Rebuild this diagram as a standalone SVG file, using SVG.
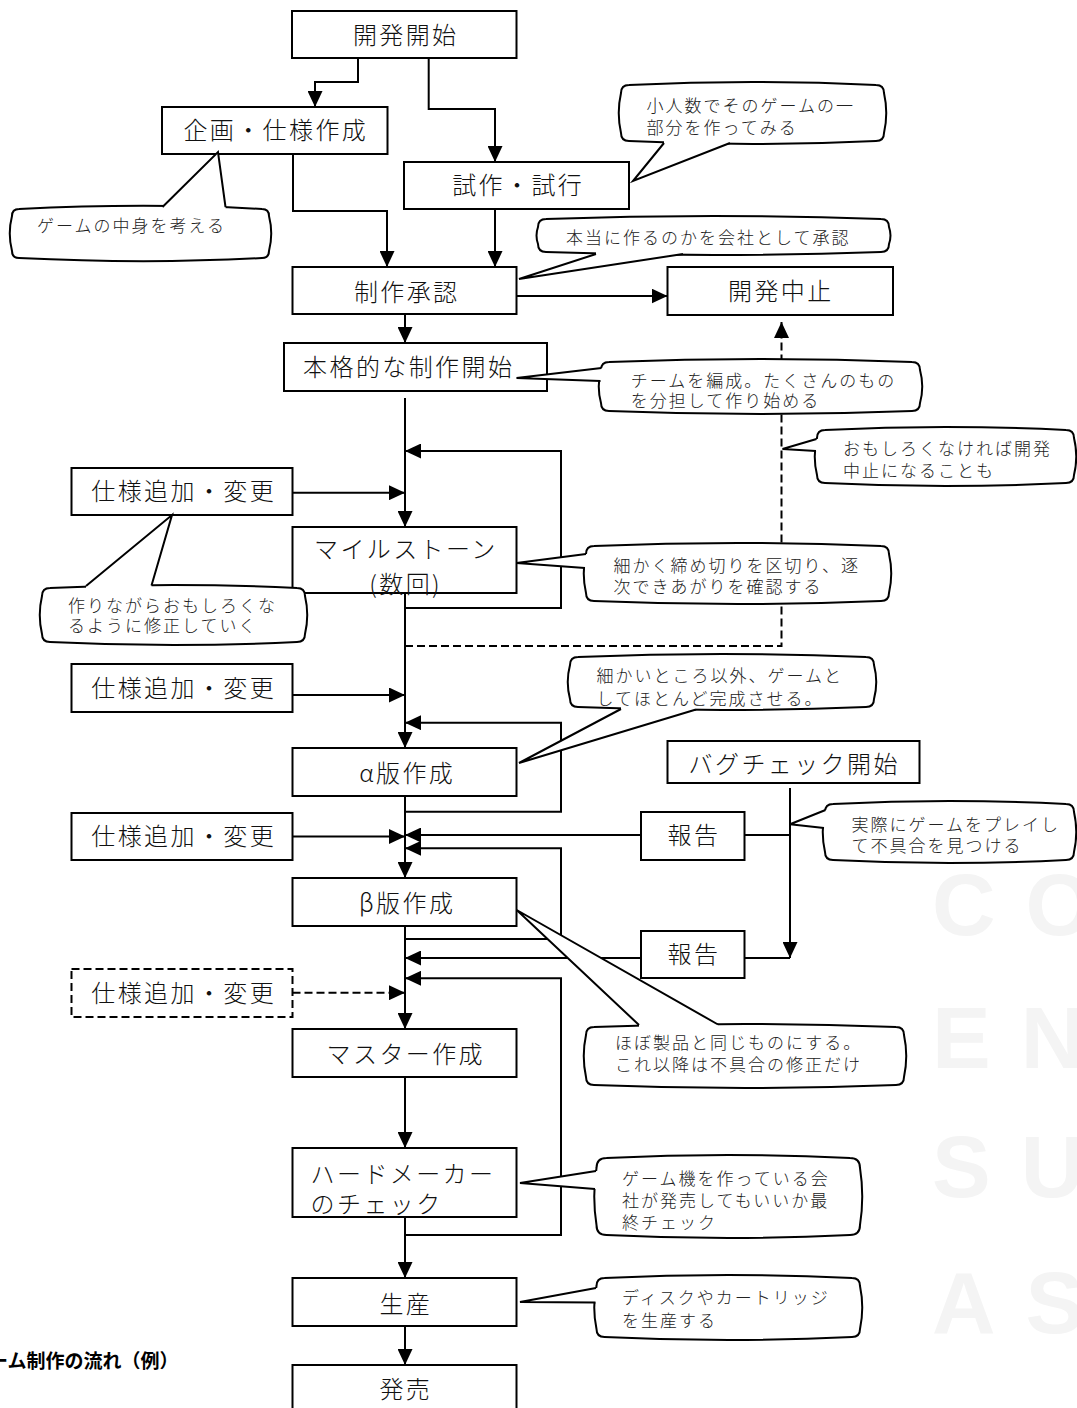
<svg xmlns="http://www.w3.org/2000/svg" width="1077" height="1408" viewBox="0 0 1077 1408">
<defs>
<style>
.box{fill:#fff;stroke:#000;stroke-width:2}
.dbox{fill:#fff;stroke:#000;stroke-width:2;stroke-dasharray:8 4}
.lbl{font-family:"Noto Sans CJK JP","Noto Sans",sans-serif;font-size:24px;font-weight:300;letter-spacing:2.4px;text-anchor:middle;dominant-baseline:central;fill:#111}
.lbs{font-family:"Noto Sans CJK JP","Noto Sans",sans-serif;font-size:24px;font-weight:300;letter-spacing:2.4px;text-anchor:start;dominant-baseline:central;fill:#111}
.cn{fill:none;stroke:#000;stroke-width:2}
.dash{stroke-dasharray:8 4}
.co{fill:#fff;stroke:#000;stroke-width:2}
.cov{fill:#fff;stroke:none}
.wl{fill:none;stroke:#000;stroke-width:2}
.ct{font-family:"Noto Sans CJK JP","Noto Sans",sans-serif;font-size:17px;font-weight:300;letter-spacing:2px;text-anchor:start;dominant-baseline:central;fill:#222}
.wm{font-family:"Liberation Sans",Arial,sans-serif;font-size:88px;font-weight:bold;letter-spacing:30px;fill:#f4f4f4}
.cap{font-family:"Noto Sans CJK JP","Noto Sans",sans-serif;font-size:19px;font-weight:bold;dominant-baseline:central;fill:#000}
</style>
<marker id="ah" viewBox="0 0 16 15" refX="16" refY="7.5" markerWidth="16" markerHeight="15" markerUnits="userSpaceOnUse" orient="auto">
<path d="M0,0 L16,7.5 L0,15 z" fill="#000"/>
</marker>
</defs>
<rect width="1077" height="1408" fill="#fff"/>
<g id="watermark">
<text class="wm" x="932" y="935">CO</text>
<text class="wm" x="932" y="1068">ENT</text>
<text class="wm" x="932" y="1197">SU</text>
<text class="wm" x="932" y="1333">ASS</text>
</g>

<g id="connectors">
<path class="cn" d="M358,58 V82 H315 V107" marker-end="url(#ah)"/>
<path class="cn" d="M428.7,58 V109 H495 V162" marker-end="url(#ah)"/>
<path class="cn" d="M293,154 V211 H387 V267" marker-end="url(#ah)"/>
<path class="cn" d="M495,209 V267" marker-end="url(#ah)"/>
<path class="cn" d="M516.5,296 H667.5" marker-end="url(#ah)"/>
<path class="cn" d="M405,314 V343" marker-end="url(#ah)"/>
<path class="cn" d="M405,398 V527" marker-end="url(#ah)"/>
<path class="cn" d="M405,608 H561 V451 H405" marker-end="url(#ah)"/>
<path class="cn" d="M292.5,492.7 H405" marker-end="url(#ah)"/>
<path class="cn" d="M405,593 V748" marker-end="url(#ah)"/>
<path class="cn dash" d="M405,646 H781.5 V322" marker-end="url(#ah)"/>
<path class="cn" d="M292.5,695 H405" marker-end="url(#ah)"/>
<path class="cn" d="M405,811.7 H561 V722.7 H405" marker-end="url(#ah)"/>
<path class="cn" d="M405,796 V878" marker-end="url(#ah)"/>
<path class="cn" d="M292.5,836.5 H405" marker-end="url(#ah)"/>
<path class="cn" d="M641,835 H405" marker-end="url(#ah)"/>
<path class="cn" d="M405,939 H561 V848.3 H405" marker-end="url(#ah)"/>
<path class="cn" d="M405,926 V1029" marker-end="url(#ah)"/>
<path class="cn" d="M641,958 H405" marker-end="url(#ah)"/>
<path class="cn" d="M405,1235 H561 V978.3 H405" marker-end="url(#ah)"/>
<path class="cn dash" d="M292.5,992.7 H405" marker-end="url(#ah)"/>
<path class="cn" d="M405,1077 V1148" marker-end="url(#ah)"/>
<path class="cn" d="M405,1217 V1278" marker-end="url(#ah)"/>
<path class="cn" d="M405,1326 V1365" marker-end="url(#ah)"/>
<path class="cn" d="M790,788 V958" marker-end="url(#ah)"/>
<path class="cn" d="M744.5,835 H790"/>
<path class="cn" d="M744.5,958 H790"/>
</g>

<g id="n-start"><rect class="box" x="292" y="11" width="224.5" height="47"/><text class="lbl" x="405.7" y="33">開発開始</text></g>
<g id="n-plan"><rect class="box" x="162" y="107" width="225.5" height="47"/><text class="lbl" x="275.8" y="128">企画・仕様作成</text></g>
<g id="n-proto"><rect class="box" x="404" y="162" width="225" height="47"/><text class="lbl" x="518.2" y="183">試作・試行</text></g>
<g id="n-approve"><rect class="box" x="292.5" y="267" width="224" height="47"/><text class="lbl" x="406.7" y="290">制作承認</text></g>
<g id="n-cancel"><rect class="box" x="667.5" y="267" width="225.5" height="48"/><text class="lbl" x="780.8" y="289">開発中止</text></g>
<g id="n-fullstart"><rect class="box" x="284" y="343" width="263" height="48"/><text class="lbl" x="408.7" y="365">本格的な制作開始</text></g>
<g id="n-spec1"><rect class="box" x="71.5" y="468" width="221" height="47"/><text class="lbl" x="183.7" y="489.5">仕様追加・変更</text></g>
<g id="n-milestone"><rect class="box" x="292.5" y="527" width="224" height="66"/><text class="lbl"><tspan x="405.8" y="547">マイルストーン</tspan><tspan x="405.7" y="582">(数回)</tspan></text></g>
<g id="n-spec2"><rect class="box" x="71.5" y="664" width="221" height="48"/><text class="lbl" x="183.7" y="686">仕様追加・変更</text></g>
<g id="n-alpha"><rect class="box" x="292.5" y="748" width="224" height="48"/><text class="lbl" x="407.2" y="771">α版作成</text></g>
<g id="n-spec3"><rect class="box" x="71.5" y="813" width="221" height="47"/><text class="lbl" x="183.7" y="834">仕様追加・変更</text></g>
<g id="n-beta"><rect class="box" x="292.5" y="878" width="224" height="48"/><text class="lbl" x="407.2" y="901.7">β版作成</text></g>
<g id="n-bugcheck"><rect class="box" x="667.5" y="741" width="252" height="42"/><text class="lbl" x="794.2" y="762.5">バグチェック開始</text></g>
<g id="n-report1"><rect class="box" x="641" y="812" width="103.5" height="48"/><text class="lbl" x="693.9" y="833">報告</text></g>
<g id="n-report2"><rect class="box" x="641" y="931" width="103.5" height="47"/><text class="lbl" x="693.9" y="952.5">報告</text></g>
<g id="n-spec4"><rect class="dbox" x="71.5" y="969" width="221" height="48"/><text class="lbl" x="183.7" y="991.7">仕様追加・変更</text></g>
<g id="n-master"><rect class="box" x="292.5" y="1029" width="224" height="48"/><text class="lbl" x="405.8" y="1052.5">マスター作成</text></g>
<g id="n-hardcheck"><rect class="box" x="292.5" y="1148" width="224" height="69"/><text class="lbs"><tspan x="310.6" y="1172">ハードメーカー</tspan><tspan x="310.6" y="1202">のチェック</tspan></text></g>
<g id="n-produce"><rect class="box" x="292.5" y="1278" width="224" height="48"/><text class="lbl" x="405.8" y="1302">生産</text></g>
<g id="n-release"><rect class="box" x="292.5" y="1365" width="224" height="48"/><text class="lbl" x="405.8" y="1387">発売</text></g>

<g id="c-plan">
<path class="co" d="M19,209 C100,205 188,205 262,209 Q269,209 269,216 C272,227.7 272,239.3 269,251 Q269,258 262,258 C188,262 100,262 19,258 Q12,258 12,251 C9,239.3 9,227.7 12,216 Q12,209 19,209 Z"/>
<polygon class="cov" points="162.5,207 218,152 225.5,207 225.5,213 162.5,213"/>
<polyline class="wl" points="162.5,207 218,152 225.5,207"/>
<text class="ct" x="37" y="224">ゲームの中身を考える</text>
</g>
<g id="c-proto">
<path class="co" d="M629,85 C711.3,81 793.7,81 876,85 Q884,85 884,93 C887,106.3 887,119.7 884,133 Q884,141 876,141 C793.7,145 711.3,145 629,141 Q621,141 621,133 C618,119.7 618,106.3 621,93 Q621,85 629,85 Z"/>
<polygon class="cov" points="664,143 633,181 730,143 730,137 664,137"/>
<polyline class="wl" points="664,143 633,181 730,143"/>
<text class="ct"><tspan x="646.5" y="104">小人数でそのゲームの一</tspan><tspan x="646.5" y="126">部分を作ってみる</tspan></text>
</g>
<g id="c-approve">
<path class="co" d="M546,219 C657.7,215 769.3,215 881,219 Q889,219 889,227 C891,232.7 891,238.3 889,244 Q889,252 881,252 C769.3,256 657.7,256 546,252 Q538,252 538,244 C536,238.3 536,232.7 538,227 Q538,219 546,219 Z"/>
<polygon class="cov" points="596,254 519,279 683,254 683,248 596,248"/>
<polyline class="wl" points="596,254 519,279 683,254"/>
<text class="ct" x="566" y="236">本当に作るのかを会社として承認</text>
</g>
<g id="c-team">
<path class="co" d="M609,362 C710,358 811,358 912,362 Q920,362 920,370 C923,381 923,392 920,403 Q920,411 912,411 C811,415 710,415 609,411 Q601,411 601,403 C598,392 598,381 601,370 Q601,362 609,362 Z"/>
<polygon class="cov" points="601.5,368 516.5,378 600.5,381 605,381 605,368"/>
<polyline class="wl" points="601.5,368 516.5,378 600.5,381"/>
<text class="ct"><tspan x="630.7" y="378.5">チームを編成。たくさんのもの</tspan><tspan x="630.7" y="399">を分担して作り始める</tspan></text>
</g>
<g id="c-cancel">
<path class="co" d="M825,430 C905.3,426 985.7,426 1066,430 Q1074,430 1074,438 C1077,450.3 1077,462.7 1074,475 Q1074,483 1066,483 C985.7,487 905.3,487 825,483 Q817,483 817,475 C814,462.7 814,450.3 817,438 Q817,430 825,430 Z"/>
<polygon class="cov" points="816.5,439 782.5,449 816,451 821,451 821,439"/>
<polyline class="wl" points="816.5,439 782.5,449 816,451"/>
<text class="ct"><tspan x="843" y="447">おもしろくなければ開発</tspan><tspan x="843" y="469">中止になることも</tspan></text>
</g>
<g id="c-milestone">
<path class="co" d="M594,546 C689.7,542 785.3,542 881,546 Q889,546 889,554 C892,567 892,580 889,593 Q889,601 881,601 C785.3,605 689.7,605 594,601 Q586,601 586,593 C583,580 583,567 586,554 Q586,546 594,546 Z"/>
<polygon class="cov" points="586,554 516.5,563 585,568 590,568 590,554"/>
<polyline class="wl" points="586,554 516.5,563 585,568"/>
<text class="ct"><tspan x="613.6" y="564">細かく締め切りを区切り、逐</tspan><tspan x="613.6" y="584.7">次できあがりを確認する</tspan></text>
</g>
<g id="c-spec">
<path class="co" d="M50,588 C132.3,584 214.7,584 297,588 Q305,588 305,596 C308,608.7 308,621.3 305,634 Q305,642 297,642 C214.7,646 132.3,646 50,642 Q42,642 42,634 C39,621.3 39,608.7 42,596 Q42,588 50,588 Z"/>
<polygon class="cov" points="86,586 172,515 151.5,585.5 151.5,592 86,592"/>
<polyline class="wl" points="86,586 172,515 151.5,585.5"/>
<text class="ct"><tspan x="68" y="604">作りながらおもしろくな</tspan><tspan x="68" y="624">るように修正していく</tspan></text>
</g>
<g id="c-alpha">
<path class="co" d="M578,657 C674,653 770,653 866,657 Q874,657 874,665 C877,676.3 877,687.7 874,699 Q874,707 866,707 C770,711 674,711 578,707 Q570,707 570,699 C567,687.7 567,676.3 570,665 Q570,657 578,657 Z"/>
<polygon class="cov" points="621,709 519,763 696,709.5 696,703 621,703"/>
<polyline class="wl" points="621,709 519,763 696,709.5"/>
<text class="ct"><tspan x="596.5" y="673.7">細かいところ以外、ゲームと</tspan><tspan x="596.5" y="697">してほとんど完成させる。</tspan></text>
</g>
<g id="c-bug">
<path class="co" d="M833,804 C910.7,800 988.3,800 1066,804 Q1074,804 1074,812 C1077,825.3 1077,838.7 1074,852 Q1074,860 1066,860 C988.3,864 910.7,864 833,860 Q825,860 825,852 C822,838.7 822,825.3 825,812 Q825,804 833,804 Z"/>
<polygon class="cov" points="825.5,810 790,824.3 824,828 829,828 829,810"/>
<polyline class="wl" points="825.5,810 790,824.3 824,828"/>
<text class="ct"><tspan x="851.6" y="822.5">実際にゲームをプレイし</tspan><tspan x="851.6" y="844">て不具合を見つける</tspan></text>
</g>
<g id="c-beta">
<path class="co" d="M594,1027 C694.7,1023 795.3,1023 896,1027 Q904,1027 904,1035 C907,1049 907,1063 904,1077 Q904,1085 896,1085 C795.3,1089 694.7,1089 594,1085 Q586,1085 586,1077 C583,1063 583,1049 586,1035 Q586,1027 594,1027 Z"/>
<polygon class="cov" points="639,1025 516.7,910 718,1024.5 718,1031 639,1031"/>
<polyline class="wl" points="639,1025 516.7,910 718,1024.5"/>
<text class="ct"><tspan x="615" y="1040.5">ほぼ製品と同じものにする。</tspan><tspan x="615" y="1062.5">これ以降は不具合の修正だけ</tspan></text>
</g>
<g id="c-hard">
<path class="co" d="M606.5,1158 C687.7,1154 768.8,1154 850,1158 Q860,1158 860,1168 C863,1187 863,1206 860,1225 Q860,1235 850,1235 C768.8,1239 687.7,1239 606.5,1235 Q596.5,1235 596.5,1225 C593.5,1206 593.5,1187 596.5,1168 Q596.5,1158 606.5,1158 Z"/>
<polygon class="cov" points="596,1171 520,1183 595,1189 600,1189 600,1171"/>
<polyline class="wl" points="596,1171 520,1183 595,1189"/>
<text class="ct"><tspan x="622" y="1176.7">ゲーム機を作っている会</tspan><tspan x="622" y="1199">社が発売してもいいか最</tspan><tspan x="622" y="1221">終チェック</tspan></text>
</g>
<g id="c-produce">
<path class="co" d="M604.5,1278 C687,1274 769.5,1274 852,1278 Q860,1278 860,1286 C863,1300.3 863,1314.7 860,1329 Q860,1337 852,1337 C769.5,1341 687,1341 604.5,1337 Q596.5,1337 596.5,1329 C593.5,1314.7 593.5,1300.3 596.5,1286 Q596.5,1278 604.5,1278 Z"/>
<polygon class="cov" points="596,1288 520,1302 595.5,1302.5 600,1302.5 600,1288"/>
<polyline class="wl" points="596,1288 520,1302 595.5,1302.5"/>
<text class="ct"><tspan x="622" y="1295.5">ディスクやカートリッジ</tspan><tspan x="622" y="1319">を生産する</tspan></text>
</g>

<g id="caption">
<text class="cap" x="-30" y="1359.5">ゲーム制作の流れ（例）</text>
</g>
</svg>
